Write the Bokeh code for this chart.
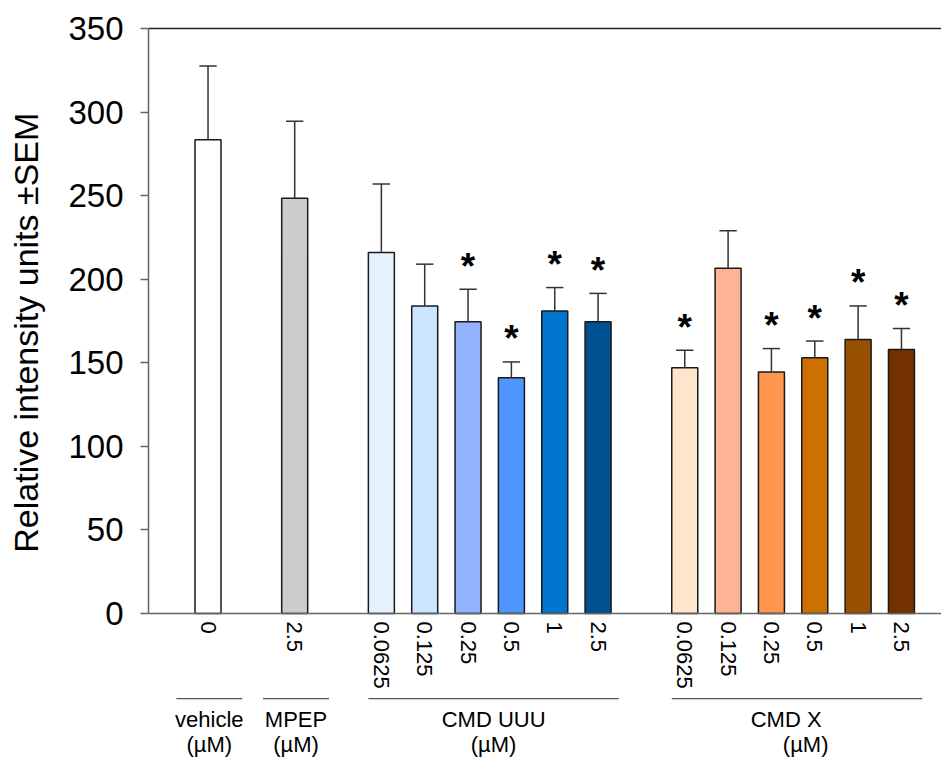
import numpy as np
from bokeh.plotting import figure
from bokeh.models import Range1d, FixedTicker, ColumnDataSource
from bokeh.core.properties import value
from bokeh.embed import file_html
from bokeh.resources import INLINE

# ---------------- data ----------------
group_names = ["vehicle", "MPEP", "CMD UUU", "CMD X"]
group_units = ["(\u00b5M)", "(\u00b5M)", "(\u00b5M)", "(\u00b5M)"]
doses = ["0", "2.5",
         "0.0625", "0.125", "0.25", "0.5", "1", "2.5",
         "0.0625", "0.125", "0.25", "0.5", "1", "2.5"]
group_of = [0, 1, 2, 2, 2, 2, 2, 2, 3, 3, 3, 3, 3, 3]
means = [283.5, 248.5,
         216, 184, 174.5, 141, 181, 174.5,
         147, 206.5, 144.5, 153, 164, 158]
sems = [44, 46,
        41, 25, 19.5, 9.5, 14, 17,
        10.5, 22.5, 14, 10, 20, 12.5]
significant = [False, False,
               False, False, True, True, True, True,
               True, False, True, True, True, True]
colors = ["#ffffff", "#cccccc",
          "#e5f1fd", "#cce5ff", "#93b3ff", "#5096ff", "#0075d0", "#005192",
          "#ffe5cc", "#ffb396", "#ff9650", "#cc7000", "#974f00", "#743000"]
y_ticks = [0, 50, 100, 150, 200, 250, 300, 350]
y_label = "Relative intensity units \u00b1SEM"

# ---------------- figure ----------------
FONT = "Liberation Sans"
xs = [i + 1 + g for i, g in enumerate(group_of)]
tops = [m + s for m, s in zip(means, sems)]
X0, X1 = -0.373, 17.924      # extent of the bar area
Y0, Y1 = 0, 350              # extent of the value axis

# the frame covers the whole canvas; axes are pinned with fixed_location
p = figure(width=941, height=761,
           x_range=Range1d(-3.788, X1), y_range=Range1d(-88.55, 366.75),
           output_backend="svg", toolbar_location=None,
           min_border_left=0, min_border_right=0,
           min_border_top=0, min_border_bottom=0)
p.outline_line_color = None
p.background_fill_color = "white"
p.border_fill_color = "white"
p.xgrid.visible = False
p.ygrid.visible = False

src = ColumnDataSource(dict(x=xs, mean=means, top=tops, color=colors,
                            cap0=[x - 0.2 for x in xs], cap1=[x + 0.2 for x in xs]))

p.vbar(x="x", top="mean", width=0.6, bottom=0, source=src,
       fill_color="color", line_color="#1a1a1a", line_width=1.5)
p.segment(x0="x", y0="mean", x1="x", y1="top", source=src,
          line_color="#333333", line_width=1.5)
p.segment(x0="cap0", y0="top", x1="cap1", y1="top", source=src,
          line_color="#333333", line_width=1.5)

sx = [x for x, s in zip(xs, significant) if s]
sy = [t for t, s in zip(tops, significant) if s]
p.text(x=sx, y=sy, text=["*"] * len(sx), text_align="center",
       text_baseline="alphabetic", y_offset=-23,
       text_font=value(FONT), text_font_size="37px", text_font_style="bold",
       text_color="black")

# top border line of the chart area
p.segment(x0=[X0], y0=[Y1], x1=[X1 + 1], y1=[Y1], line_color="#222222", line_width=1.5)

# y axis pinned at the left edge of the bar area, limited to 0..350
p.yaxis.fixed_location = X0
p.yaxis.bounds = (Y0, Y1)
p.yaxis.ticker = FixedTicker(ticks=y_ticks)
p.yaxis.major_label_text_font = FONT
p.yaxis.major_label_text_font_size = "33px"
p.yaxis.major_label_text_color = "black"
p.yaxis.major_label_standoff = 17
p.yaxis.major_tick_out = 8
p.yaxis.major_tick_in = 0
p.yaxis.minor_tick_out = 0
p.yaxis.minor_tick_in = 0
p.yaxis.axis_line_color = "#666666"
p.yaxis.axis_line_width = 1.5
p.yaxis.major_tick_line_color = "#666666"
p.yaxis.major_tick_line_width = 1.5

# y axis title (sits slightly below the middle of the 0..350 span, as in the original)
p.text(x=[-3.21], y=[(Y0 + Y1) / 2 - 7], text=[y_label], angle=np.pi / 2,
       text_align="center", text_baseline="middle",
       text_font=value(FONT), text_font_size="34px", text_color="black")

# x axis pinned at y = 0
p.xaxis.fixed_location = 0
p.xaxis.bounds = (X0, X1)
p.xaxis.ticker = FixedTicker(ticks=xs)
p.xaxis.major_label_overrides = {x: d for x, d in zip(xs, doses)}
p.xaxis.major_label_orientation = -np.pi / 2
p.xaxis.major_label_text_font = FONT
p.xaxis.major_label_text_font_size = "22px"
p.xaxis.major_label_text_color = "black"
p.xaxis.major_label_standoff = 8
p.xaxis.major_tick_out = 0
p.xaxis.major_tick_in = 0
p.xaxis.minor_tick_out = 0
p.xaxis.minor_tick_in = 0
p.xaxis.axis_line_color = "#666666"
p.xaxis.axis_line_width = 1.5

# group brackets and labels below the axis
lx0, lx1, nx, ux = [], [], [], []
for g in range(len(group_names)):
    gx = [x for x, gg in zip(xs, group_of) if gg == g]
    if len(gx) == 1:
        x0, x1 = gx[0] - 0.73, gx[0] + 0.79
    else:
        x0, x1 = gx[0] - 0.3, gx[-1] + 0.48
    mid = (x0 + x1) / 2
    lx0.append(x0)
    lx1.append(x1)
    nx.append(mid - 0.25 if g == 3 else mid)
    ux.append(mid + 0.2 if g == 3 else mid)

LINE_Y, NAME_Y, UNIT_Y = -50.9, -63.5, -78.4
p.segment(x0=lx0, y0=[LINE_Y] * 4, x1=lx1, y1=[LINE_Y] * 4,
          line_color="#555555", line_width=1.2)
p.text(x=nx, y=[NAME_Y] * 4, text=group_names, text_align="center",
       text_baseline="middle", text_font=value(FONT), text_font_size="22px",
       text_color="black")
p.text(x=ux, y=[UNIT_Y] * 4, text=group_units, text_align="center",
       text_baseline="middle", text_font=value(FONT), text_font_size="22px",
       text_color="black")

open("out.html", "w").write(file_html(p, INLINE))
